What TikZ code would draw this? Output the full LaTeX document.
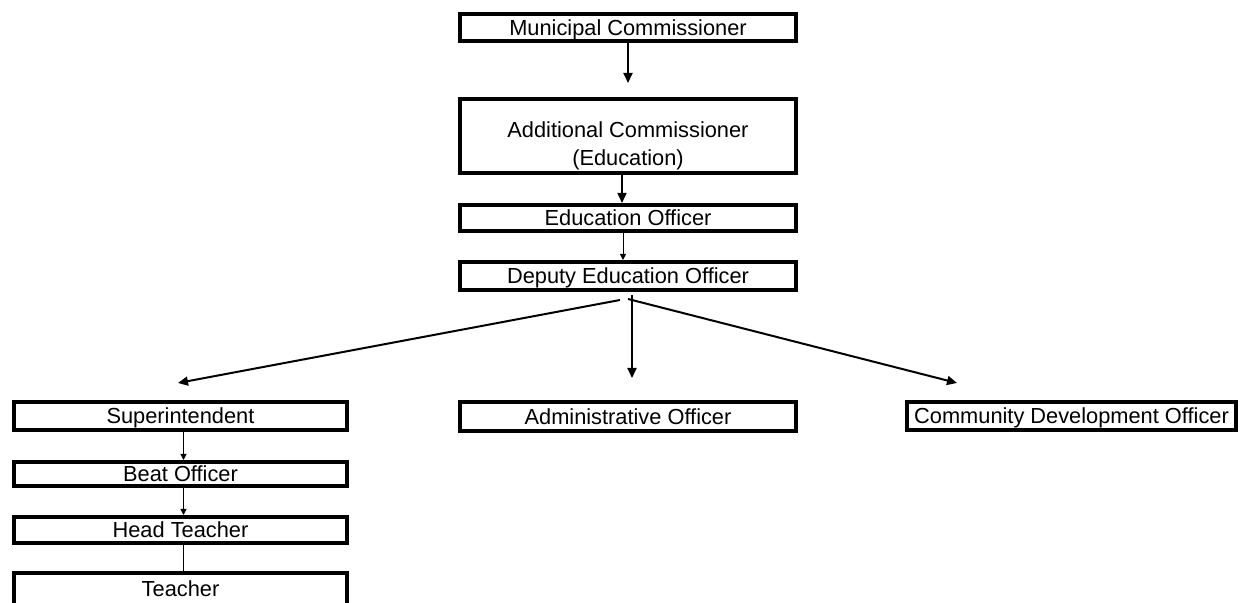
\documentclass[tikz,border=0pt]{standalone}
\usepackage{fontspec}
\setmainfont{Liberation Sans}
\usetikzlibrary{arrows.meta}
\tikzset{
    box/.style={draw, line width=2pt, inner sep=0pt, align=center,
        minimum width=168pt, minimum height=13.5pt,
        font=\fontsize{10.9}{14}\selectfont},
    post/.style={box, text height=7.8pt, text depth=0pt},
    link/.style={line width=1pt, -{Triangle[length=5pt,width=4.5pt]}},
    thinlink/.style={line width=0.5pt, -{Triangle[length=3pt,width=3pt]}}
}

\begin{document}
\begin{tikzpicture}[x=0.5pt, y=-0.5pt]
    \path[use as bounding box, clip] (0,0) rectangle (1243,603);
    % top of the chain
    \node[post] (mc) at (628, 27.5) {Municipal Commissioner};
    \node[box, minimum height=37pt] (ac) at (628, 136) {\\[4pt]Additional Commissioner\\(Education)};
    \node[post, minimum height=13pt] (eo) at (628, 218) {Education Officer};
    \node[post, minimum height=14pt] (deo) at (628, 276) {Deputy Education Officer};
    \draw[link] (mc) -- ([yshift=7pt]ac.north);
    \draw[link, line width=0.8pt] ([xshift=-3pt]ac.south) -- ([xshift=-3pt]eo.north);
    \draw[thinlink] ([xshift=-2.5pt]eo.south) -- ([xshift=-2.5pt]deo.north);
    % three branches
    \node[post, minimum width=166.5pt, minimum height=14pt] (sup) at (180.5, 416) {Superintendent};
    \node[post, minimum height=14.5pt] (adm) at (628, 416.5) {Administrative Officer};
    \node[post, minimum width=164.5pt, minimum height=14pt] (cdo) at (1071.5, 416) {Community Development Officer};
    \coordinate (fl) at (620, 300);
    \coordinate (fm) at (632, 295);
    \coordinate (fr) at (628, 299);
    \coordinate (tl) at (178, 383);
    \coordinate (tm) at (632, 378);
    \coordinate (tr) at (957, 383);
    \draw[link] (fl) -- (tl);
    \draw[link] (fm) -- (tm);
    \draw[link] (fr) -- (tr);
    % left column
    \node[post, minimum width=166.5pt, minimum height=12pt] (beat) at (180.5, 474) {Beat Officer};
    \node[post, minimum width=166.5pt, minimum height=13pt] (head) at (180.5, 530) {Head Teacher};
    \node[post, minimum width=166.5pt, minimum height=16pt] (teach) at (180.5, 589) {Teacher};
    \draw[thinlink] ([xshift=1.5pt]sup.south) -- ([xshift=1.5pt]beat.north);
    \draw[thinlink] ([xshift=1.5pt]beat.south) -- ([xshift=1.5pt]head.north);
    \draw[line width=0.5pt] ([xshift=1.5pt]head.south) -- ([xshift=1.5pt]teach.north);
\end{tikzpicture}
\end{document}
